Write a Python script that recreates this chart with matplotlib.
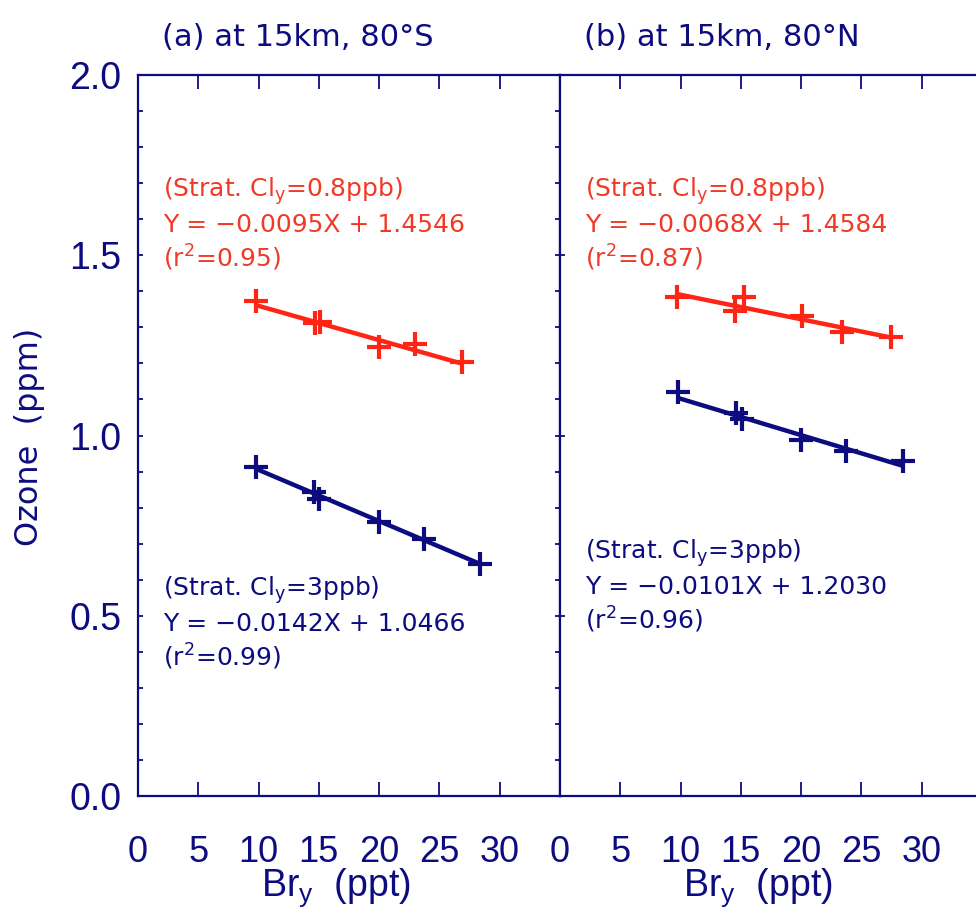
import numpy as np
import matplotlib
matplotlib.use("Agg")
import matplotlib.pyplot as plt

# colours
NAVY = "#0c0c80"
RED = "#ff2414"
RED_TXT = "#f03a26"

TICK_FONT = ["Liberation Sans", "DejaVu Sans"]
plt.rcParams["font.family"] = ["DejaVu Sans"]
plt.rcParams["mathtext.default"] = "regular"

# ---- data ----
panel_titles = ["(a) at 15km, 80°S", "(b) at 15km, 80°N"]

# Cly = 0.8 ppb (red)
bry_red_a = [9.76, 14.64, 15.11, 19.96, 23.0, 26.9]
o3_red_a = [1.374, 1.311, 1.315, 1.246, 1.253, 1.203]
bry_red_b = [9.70, 14.53, 15.27, 20.10, 23.35, 27.49]
o3_red_b = [1.385, 1.346, 1.385, 1.331, 1.286, 1.274]

# Cly = 3 ppb (blue)
bry_blue_a = [9.82, 14.58, 15.05, 19.96, 23.74, 28.37]
o3_blue_a = [0.913, 0.844, 0.824, 0.759, 0.713, 0.644]
bry_blue_b = [9.78, 14.58, 15.08, 19.96, 23.76, 28.45]
o3_blue_b = [1.120, 1.062, 1.045, 0.988, 0.958, 0.930]

# regression fits (slope, intercept, r2)
fit_red_a = (-0.0095, 1.4546, 0.95)
fit_red_b = (-0.0068, 1.4584, 0.87)
fit_blue_a = (-0.0142, 1.0466, 0.99)
fit_blue_b = (-0.0101, 1.2030, 0.96)

xticks = [0, 5, 10, 15, 20, 25, 30, 35]
xtick_labels = ["0", "5", "10", "15", "20", "25", "30", ""]

W, H = 976, 909
fig = plt.figure(figsize=(W / 100, H / 100), dpi=100)

ax_w = 422 / W
ax_h = 721 / H
bottom = (H - 796) / H
ax_a = fig.add_axes([138 / W, bottom, ax_w, ax_h])
ax_b = fig.add_axes([560 / W, bottom, ax_w, ax_h])


def fit_text(ax, x0, y0, cl, fit, color):
    slope, icpt, r2 = fit
    lines = [
        "(Strat. Cl$_\\mathregular{y}$=%sppb)" % cl,
        "Y = \u2212%.4fX + %.4f" % (-slope, icpt),
        "(r$^\\mathregular{2}$=%.2f)" % r2,
    ]
    step = 35 / 360.5
    for i, s in enumerate(lines):
        ax.text(x0, y0 - i * step, s, color=color, fontsize=18,
                ha="left", va="baseline")


def draw_series(ax, xs, ys, fit, color):
    slope, icpt, _ = fit
    xl = np.array([min(xs), max(xs)])
    ax.plot(xl, slope * xl + icpt, color=color, lw=3.2, solid_capstyle="butt")
    ax.plot(xs, ys, ls="none", marker="+", ms=17, mew=3.0, color=color)


for k, ax in enumerate([ax_a, ax_b]):
    ax.set_xlim(0, 35)
    ax.set_ylim(0, 2.0)
    for sp in ax.spines.values():
        sp.set_color(NAVY)
        sp.set_linewidth(1.6)
    ax.set_xticks(xticks)
    ax.set_xticklabels(xtick_labels, family=TICK_FONT, fontsize=26, color=NAVY)
    ax.tick_params(axis="x", direction="in", length=10, width=1.3,
                   color=NAVY, top=True, bottom=True, pad=28)
    ax.tick_params(axis="y", direction="in", length=3.5, width=1.3,
                   color=NAVY, left=True, right=True)
    ax.tick_params(axis="y", which="minor", direction="in", length=3.5,
                   width=1.3, color=NAVY, left=True, right=True)
    ax.text(0.058, 1.0 + 38 / 721, panel_titles[k], transform=ax.transAxes,
            fontsize=22, color=NAVY, ha="left", va="center")
    ax.text(0.47, -100 / 721, "Br$_\\mathregular{y}$  (ppt)", transform=ax.transAxes,
            family=TICK_FONT, fontsize=27, color=NAVY, ha="center", va="baseline")

# left panel y axis: labels every 0.5, ticks every 0.1
ax_a.set_yticks(np.arange(0, 2.01, 0.5))
ax_a.set_yticks(np.arange(0, 2.01, 0.1), minor=True)
ax_a.set_yticklabels(["0.0", "0.5", "1.0", "1.5", "2.0"], family=TICK_FONT,
                     fontsize=27, color=NAVY)
ax_a.tick_params(axis="y", pad=12)

# right panel: major ticks only, no labels
ax_b.set_yticks(np.arange(0, 2.01, 0.5))
ax_b.set_yticklabels([])

fig.text(30 / W, 1 - 437 / H, "Ozone  (ppm)", rotation=90, fontsize=23,
         color=NAVY, ha="center", va="center")

draw_series(ax_a, bry_red_a, o3_red_a, fit_red_a, RED)
draw_series(ax_a, bry_blue_a, o3_blue_a, fit_blue_a, NAVY)
draw_series(ax_b, bry_red_b, o3_red_b, fit_red_b, RED)
draw_series(ax_b, bry_blue_b, o3_blue_b, fit_blue_b, NAVY)

fit_text(ax_a, 2.07, 1.662, "0.8", fit_red_a, RED_TXT)
fit_text(ax_a, 2.07, 0.555, "3", fit_blue_a, NAVY)
fit_text(ax_b, 2.07, 1.662, "0.8", fit_red_b, RED_TXT)
fit_text(ax_b, 2.07, 0.657, "3", fit_blue_b, NAVY)

fig.savefig("out.png", dpi=100, facecolor="white")
